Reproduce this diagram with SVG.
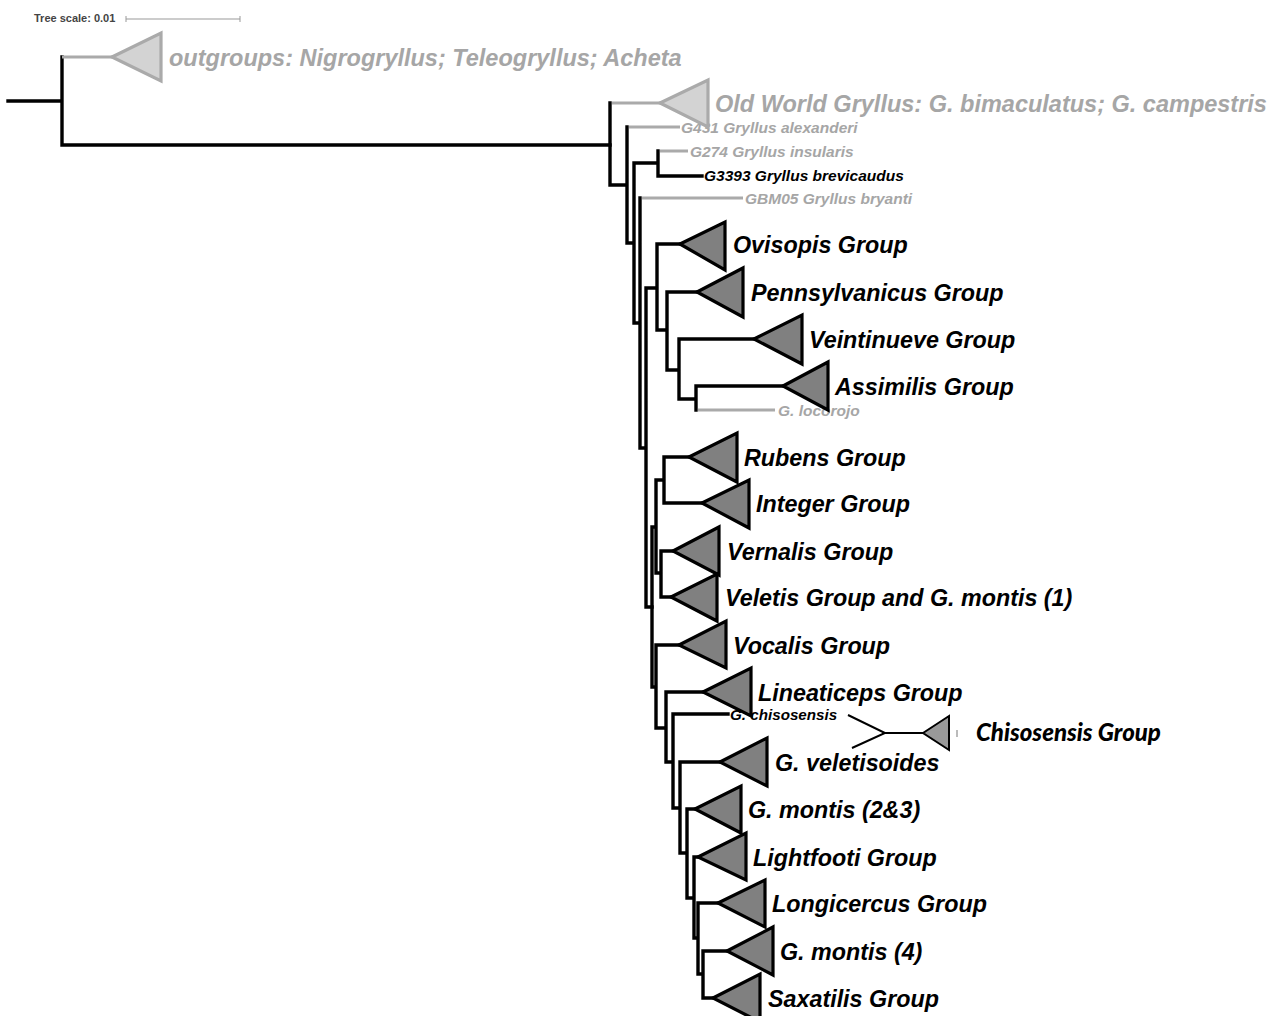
<svg xmlns="http://www.w3.org/2000/svg" width="1276" height="1016" viewBox="0 0 1276 1016">
<style>
.br{fill:none;stroke:#000;stroke-width:3.4;stroke-linecap:square}
.gb{fill:none;stroke:#aaa;stroke-width:3.2;stroke-linecap:butt}
.tri{fill:#808080;stroke:#000;stroke-width:3.2;stroke-linejoin:miter}
.ltri{fill:#d3d3d3;stroke:#aaa;stroke-width:3.2}
.lbl{font-family:"Liberation Sans",Arial,sans-serif;font-weight:bold;font-style:italic;font-size:23.3px;fill:#000}
.glbl{font-family:"Liberation Sans",Arial,sans-serif;font-weight:bold;font-style:italic;font-size:23.5px;fill:#a6a6a6}
.sm{font-family:"Liberation Sans",Arial,sans-serif;font-weight:bold;font-style:italic;font-size:15.5px}
</style>
<rect width="1276" height="1016" fill="#fff"/>
<g id="scale">
<text x="34" y="22" font-family="Liberation Sans,Arial,sans-serif" font-weight="bold" font-size="11" fill="#444">Tree scale: 0.01</text>
<path d="M126,19H240M126,16V22M240,16V22" stroke="#999" stroke-width="1" fill="none"/>
</g>
<g id="connectors">
<path class="br" d="M8,101H62M62,57V145M62,145H610"/>
<path class="gb" d="M62,57H112"/>
<path class="br" d="M610,103V185H627M627,127V243H634M634,163V323H640M634,163H658M658,151V176H702M640,198V448H646M646,288V607H652M646,288H657M657,244V330H667M657,244H680M667,292V370H679M667,292H697M679,339V399H696M679,339H754M696,386V410M696,386H783"/>
<path class="br" d="M652,527V687H656M652,527H656M656,480V573H661M656,480H664M664,457V503H702M664,457H689M661,551V597H671M661,551H673M656,645V728H666M656,645H679M666,692V762H673M666,692H703M673,714V808H680M673,714H728M680,762V853H687M680,762H720M687,809V898H694M687,809H695M694,857V938H698M694,857H698M698,903V974H703M698,903H718M703,951V998H713M703,951H727"/>
<path class="gb" d="M612,103H660M629,127H680M660,151H688M642,198H743M698,410H775"/>
<path d="M848,715L885,733L852,748M885,733H923" fill="none" stroke="#000" stroke-width="2"/>
</g>
<g id="leaf-alexanderi"><text class="sm" x="681" y="133" fill="#a6a6a6">G431 Gryllus alexanderi</text></g>
<g id="leaf-insularis"><text class="sm" x="690" y="157" fill="#a6a6a6">G274 Gryllus insularis</text></g>
<g id="leaf-brevicaudus"><text class="sm" x="704" y="181" fill="#000">G3393 Gryllus brevicaudus</text></g>
<g id="leaf-bryanti"><text class="sm" x="745" y="204" fill="#a6a6a6">GBM05 Gryllus bryanti</text></g>
<g id="leaf-locorojo"><text class="sm" x="778" y="416" fill="#a6a6a6">G. locorojo</text></g>
<g id="leaf-chisosensis"><text class="sm" x="730" y="720" fill="#000" style="font-size:15.2px">G. chisosensis</text></g>
<g id="outgroups"><polygon class="ltri" points="112,57 161,33 161,81"/><text class="glbl" x="169" y="66">outgroups: Nigrogryllus; Teleogryllus; Acheta</text></g>
<g id="oldworld"><polygon class="ltri" points="660,103 708,80 708,127"/><text class="glbl" x="715" y="112">Old World Gryllus: G. bimaculatus; G. campestris</text></g>
<g id="ovisopis"><polygon class="tri" points="680,244 725,222 725,270"/><text class="lbl" x="733" y="253">Ovisopis Group</text></g>
<g id="pennsylvanicus"><polygon class="tri" points="697,292 743,268 743,317"/><text class="lbl" x="751" y="301">Pennsylvanicus Group</text></g>
<g id="veintinueve"><polygon class="tri" points="754,339 802,315 802,364"/><text class="lbl" x="809" y="348">Veintinueve Group</text></g>
<g id="assimilis"><polygon class="tri" points="783,386 828,362 828,410"/><text class="lbl" x="835" y="395">Assimilis Group</text></g>
<g id="rubens"><polygon class="tri" points="689,457 737,433 737,482"/><text class="lbl" x="744" y="466">Rubens Group</text></g>
<g id="integer"><polygon class="tri" points="702,503 749,480 749,528"/><text class="lbl" x="756" y="512">Integer Group</text></g>
<g id="vernalis"><polygon class="tri" points="673,551 719,527 719,575"/><text class="lbl" x="727" y="560">Vernalis Group</text></g>
<g id="veletis"><polygon class="tri" points="671,597 717,574 717,621"/><text class="lbl" x="725" y="606">Veletis Group and G. montis (1)</text></g>
<g id="vocalis"><polygon class="tri" points="679,645 726,621 726,668"/><text class="lbl" x="733" y="654">Vocalis Group</text></g>
<g id="lineaticeps"><polygon class="tri" points="703,692 751,668 751,716"/><text class="lbl" x="758" y="701">Lineaticeps Group</text></g>
<g id="veletisoides"><polygon class="tri" points="720,762 767,738 767,786"/><text class="lbl" x="775" y="771">G. veletisoides</text></g>
<g id="montis23"><polygon class="tri" points="695,809 741,786 741,833"/><text class="lbl" x="748" y="818">G. montis (2&amp;3)</text></g>
<g id="lightfooti"><polygon class="tri" points="698,857 746,833 746,880"/><text class="lbl" x="753" y="866">Lightfooti Group</text></g>
<g id="longicercus"><polygon class="tri" points="718,903 765,880 765,927"/><text class="lbl" x="772" y="912">Longicercus Group</text></g>
<g id="montis4"><polygon class="tri" points="727,951 773,927 773,975"/><text class="lbl" x="780" y="960">G. montis (4)</text></g>
<g id="saxatilis"><polygon class="tri" points="713,998 760,974 760,1022"/><text class="lbl" x="768" y="1007">Saxatilis Group</text></g>
<g id="chisosensis-group"><polygon points="923,733 949,716 949,750" fill="#999" stroke="#000" stroke-width="2"/><rect x="956" y="730" width="2" height="7" fill="#bbb"/><text x="976" y="741" font-family="Lato,'Liberation Sans',sans-serif" font-weight="900" font-style="italic" font-size="24" fill="#000">Chisosensis Group</text></g>
</svg>
